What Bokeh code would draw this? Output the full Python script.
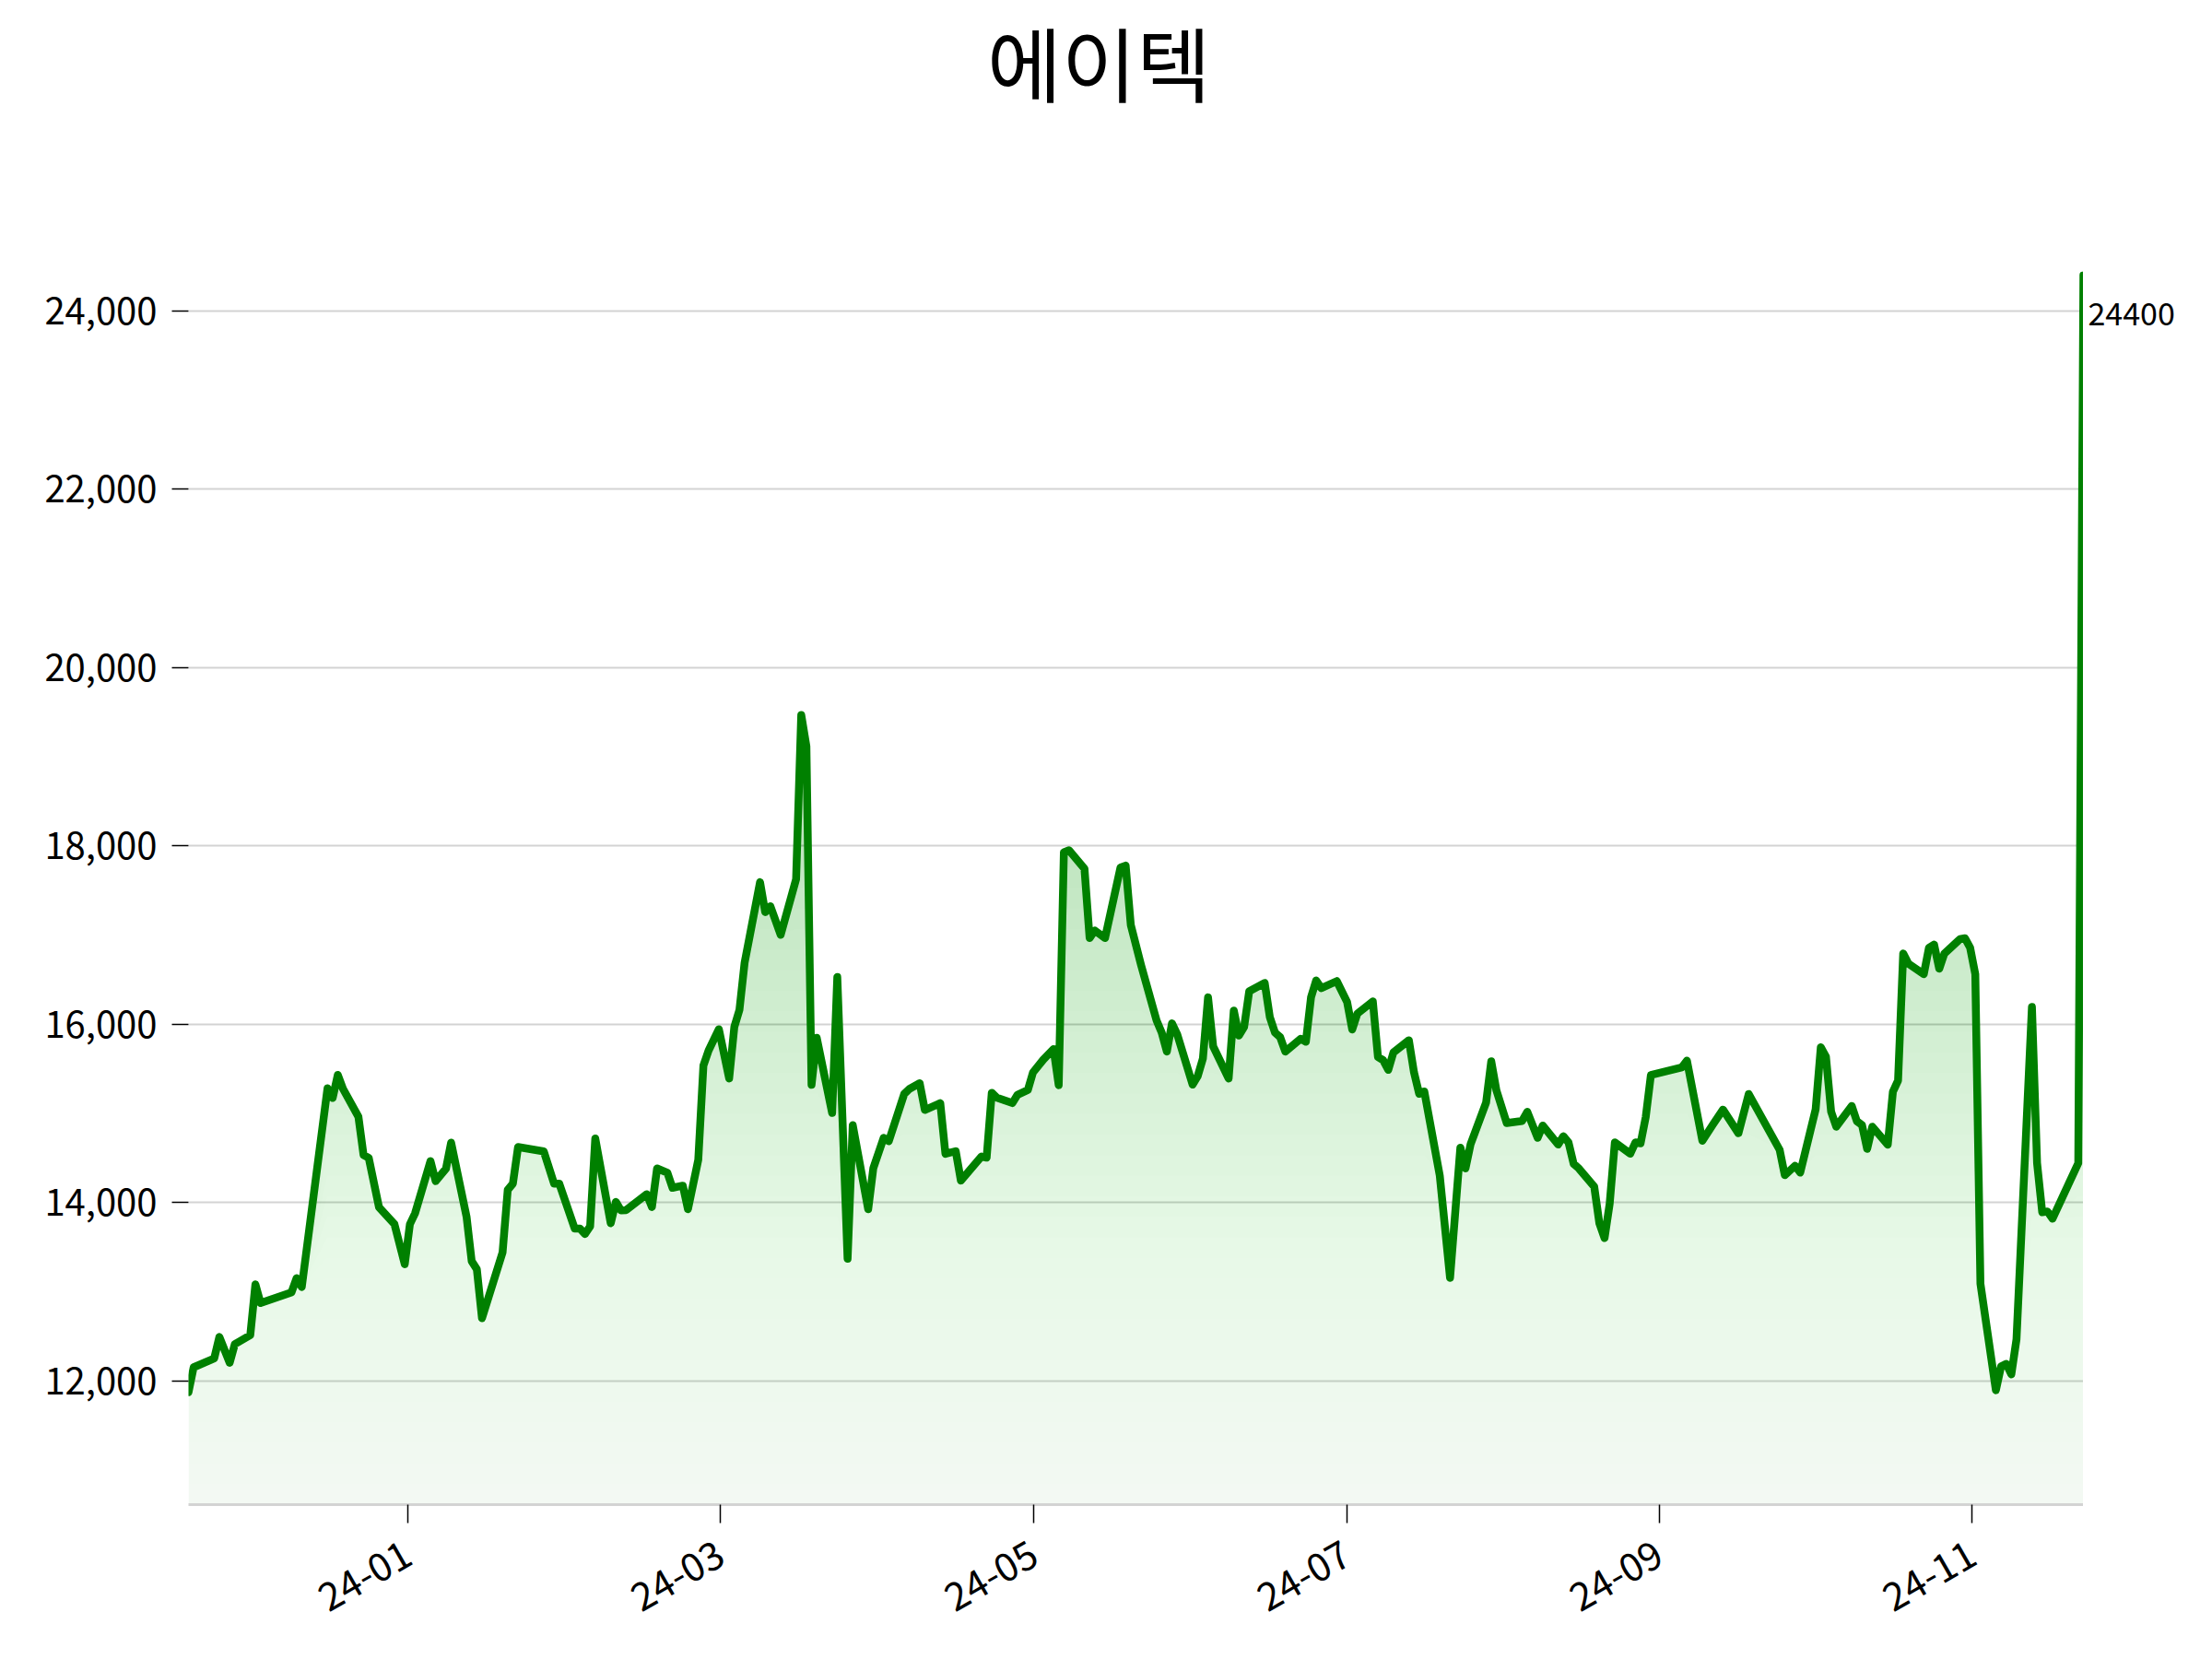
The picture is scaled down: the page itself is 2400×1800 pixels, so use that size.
import numpy as np
import pandas as pd
from bokeh.plotting import figure
from bokeh.layouts import column, row
from bokeh.models import Range1d, FixedTicker, NumeralTickFormatter
from bokeh.core.properties import value
from bokeh.embed import file_html
from bokeh.resources import INLINE

# ---------------- data ----------------
title_text = "에이텍"
start_date = "2023-11-20"

day_offsets = [
    0, 1, 5, 6, 8, 9, 12, 13, 14, 20, 21, 22, 27, 28, 29, 30, 33, 34, 35, 37,
    40, 42, 43, 44, 47, 48, 50, 51, 54, 55, 56, 57, 61, 62, 63, 64, 69, 71, 72, 75,
    76, 77, 78, 79, 82, 83, 84, 85, 89, 90, 91, 93, 94, 96, 97, 99, 100, 101, 103, 105,
    106, 107, 108, 111, 112, 113, 115, 118, 119, 120, 121, 122, 125, 126, 128, 129, 132, 133, 135, 136,
    139, 140, 142, 143, 146, 147, 149, 150, 154, 155, 156, 157, 160, 161, 163, 164, 166, 168, 169, 170,
    171, 174, 175, 176, 178, 181, 182, 183, 185, 188, 189, 190, 191, 192, 195, 196, 197, 198, 199, 202,
    203, 204, 205, 206, 209, 210, 211, 212, 213, 216, 217, 218, 219, 220, 223, 225, 226, 227, 230, 231,
    232, 233, 234, 237, 238, 239, 240, 243, 245, 247, 248, 249, 252, 253, 254, 256, 259, 260, 262, 263,
    266, 267, 268, 269, 270, 273, 274, 275, 276, 277, 280, 281, 282, 283, 284, 290, 291, 294, 296, 298,
    301, 303, 309, 310, 312, 313, 316, 317, 318, 319, 320, 323, 324, 325, 326, 327, 330, 331, 332, 333,
    334, 337, 338, 339, 340, 341, 344, 345, 346, 347, 348, 351, 352, 353, 354, 355, 358, 359, 360, 361,
    362, 367, 368,
]

prices = [
    11870, 12150, 12250, 12490, 12200, 12410, 12510, 13080, 12870, 12990, 13150, 13050, 15280, 15170, 15430, 15275, 14960, 14530, 14500, 13945,
    13755, 13306, 13755, 13876, 14463, 14238, 14377, 14670, 13840, 13340, 13250, 12700, 13440, 14140, 14210, 14620, 14572, 14210, 14210, 13707,
    13707, 13644, 13730, 14716, 13764, 14005, 13909, 13913, 14091, 13947, 14380, 14332, 14163, 14187, 13923, 14476, 15534, 15702, 15942, 15389,
    15966, 16159, 16687, 17591, 17255, 17322, 17000, 17625, 19466, 19115, 15317, 15846, 15002, 16527, 13366, 14865, 13923, 14385, 14723, 14685,
    15216, 15272, 15336, 15036, 15113, 14544, 14574, 14244, 14514, 14501, 15229, 15173, 15113, 15207, 15259, 15456, 15600, 15720, 15314, 17927,
    17949, 17743, 16964, 17049, 16964, 17756, 17777, 17110, 16660, 16041, 15904, 15691, 16007, 15887, 15320, 15416, 15612, 16299, 15749, 15389,
    16151, 15870, 15966, 16368, 16461, 16076, 15904, 15853, 15691, 15835, 15801, 16299, 16488, 16402, 16481, 16248, 15938, 16117, 16254, 15629,
    15595, 15485, 15681, 15818, 15457, 15217, 15244, 14300, 13153, 14614, 14381, 14655, 15119, 15582, 15256, 14889, 14913, 15016, 14724, 14861,
    14648, 14741, 14672, 14432, 14381, 14175, 13763, 13599, 13986, 14672, 14546, 14672, 14662, 14957, 15427, 15513, 15589, 14690, 14868, 15040,
    14775, 15215, 14590, 14305, 14411, 14333, 15045, 15740, 15633, 15017, 14849, 15081, 14910, 14867, 14600, 14849, 14646, 15241, 15366, 16791,
    16677, 16559, 16855, 16891, 16620, 16791, 16951, 16962, 16855, 16559, 13086, 11893, 12160, 12189, 12071, 12463, 16192, 14440, 13888, 13898,
    13817, 14440, 24400,
]

y_ticks = [12000, 14000, 16000, 18000, 20000, 22000, 24000]
# x tick positions as they sit in the picture (evenly spaced), with their labels
x_tick_times = ["2024-01-01 14:00", "2024-03-02 07:00", "2024-05-02 05:00",
                "2024-07-01 22:00", "2024-08-31 14:00", "2024-10-31 10:00"]
x_tick_labels = ["24-01", "24-03", "24-05", "24-07", "24-09", "24-11"]

# ---------------- build ----------------
assert len(day_offsets) == len(prices)
dates = pd.Timestamp(start_date) + pd.to_timedelta(day_offsets, unit="D")
price_arr = np.array(prices, dtype=float)

y_lo, y_hi = 10610, 24440
FONT = "Noto Sans CJK KR"
GREEN = "#008000"

TOTAL_W, TOTAL_H = 2384, 1784
TITLE_H = 200
MAIN_W = 2260
MAIN_H = TOTAL_H - TITLE_H
TOP_B = 294 - TITLE_H
BOT_B = TOTAL_H - 1632


def bare(fig):
    fig.outline_line_color = None
    fig.background_fill_color = None
    fig.border_fill_color = None
    return fig


# --- title strip (y measured in pixels from its bottom) ---
tfig = bare(figure(width=TOTAL_W, height=TITLE_H, x_range=(0, 1), y_range=(0, TITLE_H),
                   x_axis_location=None, y_axis_location=None,
                   output_backend="svg", toolbar_location=None,
                   min_border=0))
tfig.grid.visible = False
tfig.text(x=[0.5], y=[TITLE_H - 65], text=[title_text], text_align="center",
          text_baseline="middle", text_font=value(FONT),
          text_font_size="88px", text_color="black")

# --- main plot ---
p = bare(figure(width=MAIN_W, height=MAIN_H, x_axis_type="datetime",
                x_range=Range1d(dates[0], dates[-1]),
                y_range=Range1d(y_lo, y_hi),
                output_backend="svg", toolbar_location=None,
                min_border_left=204, min_border_right=0,
                min_border_top=TOP_B, min_border_bottom=BOT_B))

# vertical gradient fill built from stacked translucent bands
N = 60
levels = np.linspace(y_lo, y_hi, N + 1)
A0, A1 = 0.045, 0.36
prev = 0.0
for k in range(N):
    target = A0 + (A1 - A0) * ((levels[k] + levels[k + 1]) / 2 - y_lo) / (y_hi - y_lo)
    a = 1 - (1 - target) / (1 - prev)
    prev = target
    p.varea(x=dates, y1=np.minimum(price_arr, levels[k]), y2=price_arr,
            fill_color=GREEN, fill_alpha=a)

p.line(dates, price_arr, line_color=GREEN, line_width=8.5,
       line_join="round", line_cap="round")

yt = FixedTicker(ticks=y_ticks)
p.yaxis.ticker = yt
p.ygrid.ticker = yt
p.yaxis.formatter = NumeralTickFormatter(format="0,0")
p.yaxis.axis_line_color = None
p.yaxis.major_tick_out = 18
p.yaxis.major_tick_in = 0
p.yaxis.minor_tick_line_color = None
p.yaxis.major_tick_line_color = "black"
p.yaxis.major_tick_line_width = 1.5
p.yaxis.major_label_standoff = 16
p.yaxis.major_label_text_font_size = "40px"
p.yaxis.major_label_text_font = FONT
p.yaxis.major_label_text_color = "black"

x_ms = [int(pd.Timestamp(t).value // 10**6) for t in x_tick_times]
p.xaxis.ticker = FixedTicker(ticks=x_ms)
p.xaxis.major_label_overrides = {ms: lab for ms, lab in zip(x_ms, x_tick_labels)}
p.xaxis.axis_line_color = "#d3d3d3"
p.xaxis.axis_line_width = 3
p.xaxis.major_tick_out = 20
p.xaxis.major_tick_in = 0
p.xaxis.minor_tick_line_color = None
p.xaxis.major_tick_line_color = "black"
p.xaxis.major_tick_line_width = 1.5
p.xaxis.major_label_orientation = np.pi / 6
p.xaxis.major_label_standoff = 30
p.xaxis.major_label_text_font_size = "42px"
p.xaxis.major_label_text_font = FONT
p.xaxis.major_label_text_color = "black"

p.xgrid.visible = False
p.ygrid.grid_line_color = "#d3d3d3"
p.ygrid.grid_line_width = 2

# --- right strip carrying the last-value label ---
rfig = bare(figure(width=TOTAL_W - MAIN_W, height=MAIN_H, x_range=(0, 1),
                   y_range=p.y_range, x_axis_location=None, y_axis_location=None,
                   output_backend="svg", toolbar_location=None,
                   min_border_left=0, min_border_right=0,
                   min_border_top=TOP_B, min_border_bottom=BOT_B))
rfig.grid.visible = False
rfig.text(x=[0], y=[prices[-1]], text=[str(prices[-1])], x_offset=5, y_offset=42,
          text_align="left", text_baseline="middle", text_font=value(FONT),
          text_font_size="34px", text_color="black")

layout = column(tfig, row(p, rfig, spacing=0), spacing=0)
open("out.html", "w").write(file_html(layout, INLINE))
